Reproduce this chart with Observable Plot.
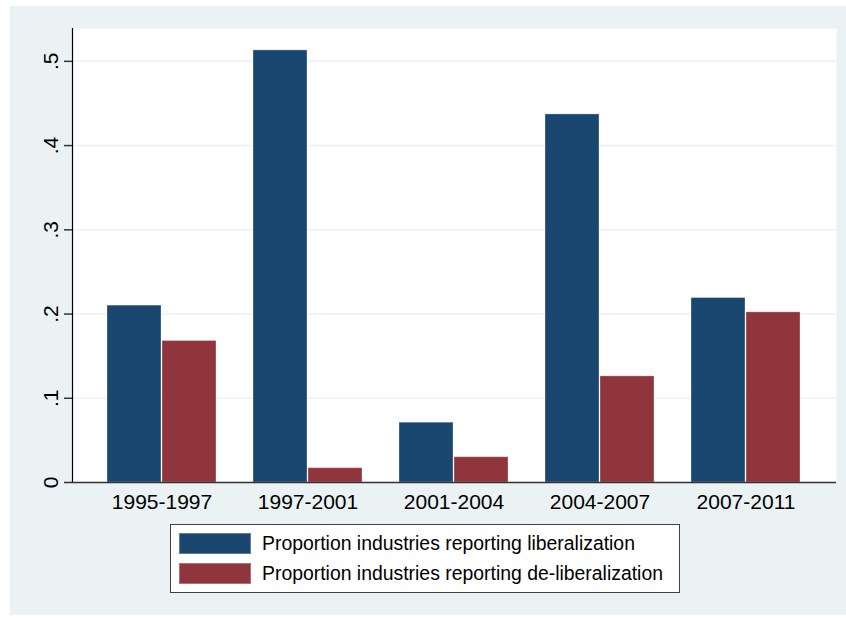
<!DOCTYPE html>
<html><head><meta charset="utf-8">
<script src="https://cdn.jsdelivr.net/npm/d3@7"></script>
<script src="https://cdn.jsdelivr.net/npm/@observablehq/plot@0.6"></script>
<style>
body{margin:0;background:#fff;font-family:"Liberation Sans",Arial,sans-serif;}
#wrap{position:absolute;left:10px;top:6px;width:836px;height:609px;background:#eaf2f3;}
#chart{position:absolute;left:0;top:0;}
#legend{position:absolute;left:160px;top:518px;width:508px;height:67px;background:#fff;border:1px solid #404040;}
.item{position:absolute;left:8px;height:21px;display:flex;align-items:center;}
.sw{width:72px;height:21px;margin-right:11px;box-sizing:border-box;border:1px solid rgba(255,255,255,0.3);}
.lab{font-size:19.4px;color:#000;white-space:nowrap;}
</style></head><body>
<div id="wrap"><div id="chart"></div><div id="legend"></div></div>
<script>
const periods = ["1995-1997","1997-2001","2001-2004","2004-2007","2007-2011"];
const liberalization = [0.210, 0.513, 0.071, 0.437, 0.219];
const deliberalization = [0.168, 0.017, 0.030, 0.126, 0.202];
const seriesNames = ["Proportion industries reporting liberalization","Proportion industries reporting de-liberalization"];
const seriesColors = ["#1a476f","#90353b"];
const yTicks = [0, 0.1, 0.2, 0.3, 0.4, 0.5];
const yTickLabels = ["0",".1",".2",".3",".4",".5"];

const libRows = periods.map((p,i)=>({period:p, value:liberalization[i]}));
const delibRows = periods.map((p,i)=>({period:p, value:deliberalization[i]}));

const chart = Plot.plot({
  width: 836,
  height: 516,
  marginLeft: 62,
  marginRight: 10,
  marginTop: 22,
  marginBottom: 40,
  style: {fontFamily: '"Liberation Sans", Arial, sans-serif', background: "transparent", color: "#000"},
  x: {domain: periods, paddingInner: 0.2517, paddingOuter: 0.2245, label: null},
  y: {domain: [0, 0.539], label: null},
  marks: [
    Plot.frame({fill: "white", stroke: null}),
    Plot.gridY(yTicks.filter(d=>d>0), {stroke: "#eaf2f3", strokeOpacity: 1, strokeWidth: 1.5}),
    Plot.barY(libRows, {x: "period", y: "value", fill: seriesColors[0], insetRight: 55, stroke: "#fff", strokeOpacity: 0.3, strokeWidth: 1}),
    Plot.barY(delibRows, {x: "period", y: "value", fill: seriesColors[1], insetLeft: 55, stroke: "#fff", strokeOpacity: 0.3, strokeWidth: 1}),
    Plot.frame({anchor: "left", stroke: "#000", strokeWidth: 1.2}),
    Plot.ruleY([0], {stroke: "#333", strokeWidth: 1.5}),
    Plot.axisY(yTicks, {tickSize: 8, stroke: "#333", strokeWidth: 1.5, tickRotate: -90, tickFormat: (d)=>yTickLabels[yTicks.indexOf(d)], fontSize: 21, tickPadding: 7, label: null}),
    Plot.axisX({tickSize: 0, tickPadding: 12, fontSize: 21, label: null})
  ]
});
document.getElementById("chart").appendChild(chart);

const legend = document.getElementById("legend");
seriesNames.forEach((name,i)=>{
  const it = document.createElement("div");
  it.className = "item";
  it.style.top = (i===0 ? 8 : 38) + "px";
  const sw = document.createElement("div"); sw.className = "sw"; sw.style.background = seriesColors[i];
  const lb = document.createElement("span"); lb.className = "lab"; lb.textContent = name;
  it.appendChild(sw); it.appendChild(lb); legend.appendChild(it);
});
</script>
</body></html>
